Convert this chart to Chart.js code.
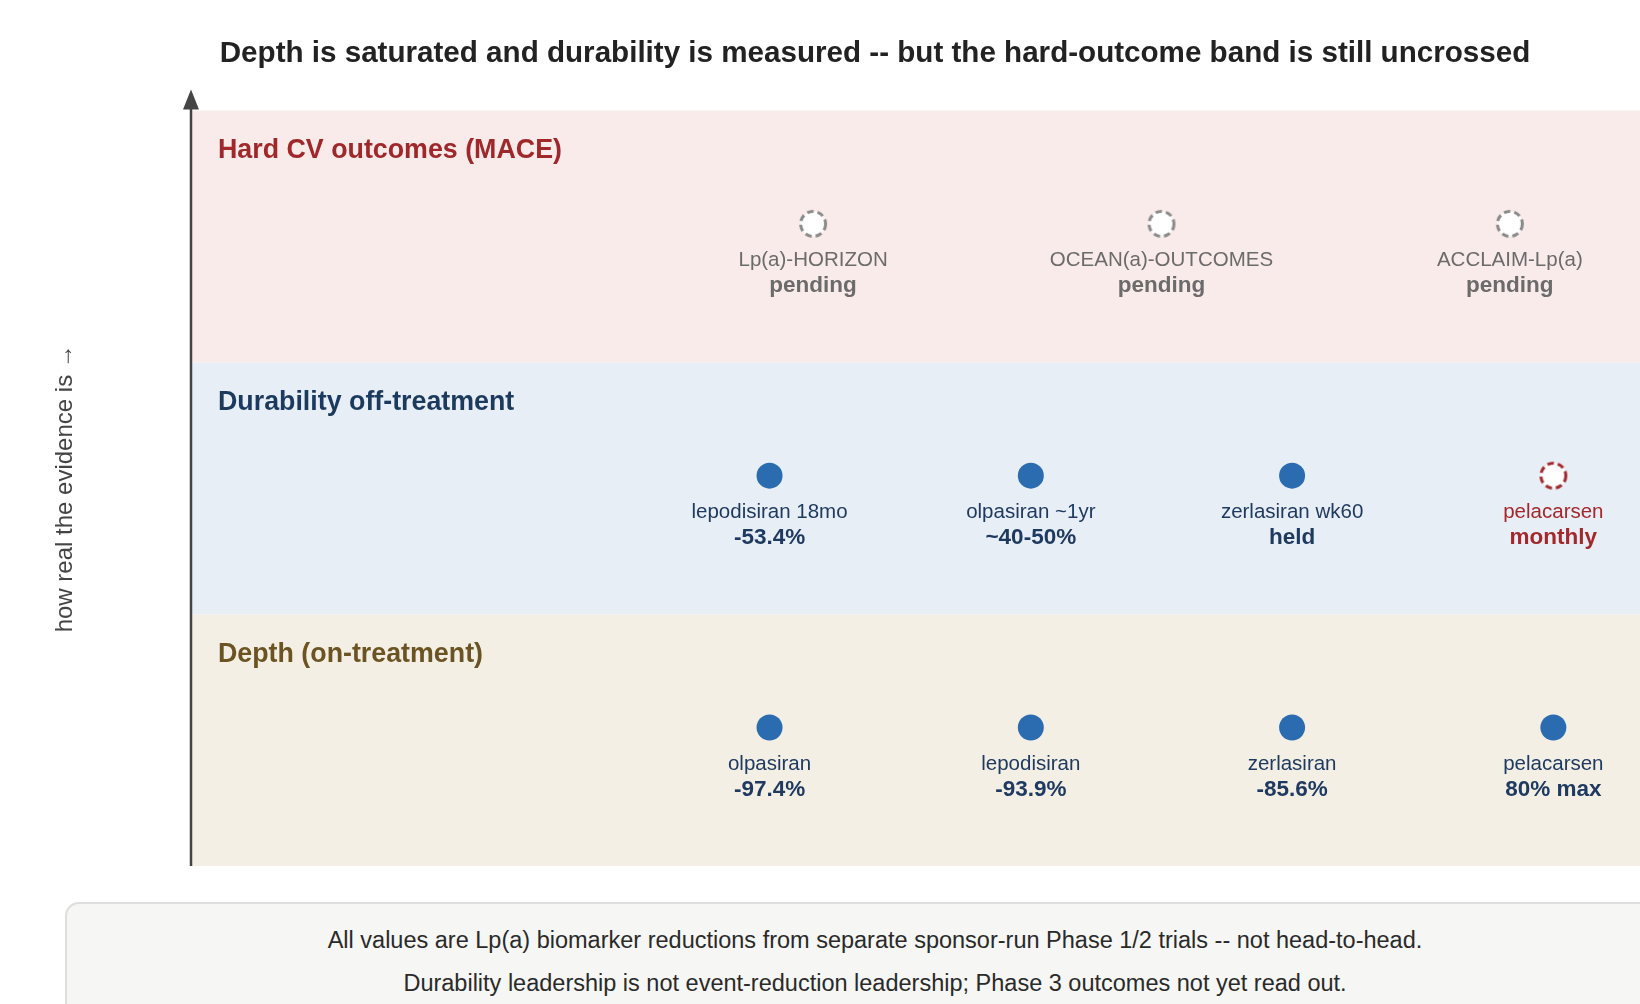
<!DOCTYPE html>
<html>
<head>
<meta charset="utf-8">
<script src="https://cdn.jsdelivr.net/npm/chart.js@4.4.1/dist/chart.umd.min.js"></script>
<style>
  body { margin: 0; background: #fff; overflow: hidden; font-family: Helvetica, Arial, "Liberation Sans", sans-serif; }
  #page { width: 1750px; }
  #wrap { position: relative; width: 1750px; height: 880px; }
  #note {
    margin: 22px 65px 0 65px;
    padding: 15px 0 30px 0;
    background: #f6f6f4;
    border: 2px solid #dedede;
    border-radius: 14px;
    text-align: center;
    color: #2a2a2a;
    font-size: 23.5px;
    line-height: 43px;
  }
</style>
</head>
<body>
<div id="page">
  <div id="wrap"><canvas id="myChart"></canvas></div>
  <div id="note">
    All values are Lp(a) biomarker reductions from separate sponsor-run Phase 1/2 trials -- not head-to-head.<br>
    Durability leadership is not event-reduction leadership; Phase 3 outcomes not yet read out.
  </div>
</div>
<script>
const bandNames = ["Depth (on-treatment)", "Durability off-treatment", "Hard CV outcomes (MACE)"];

const depthNames = ["olpasiran", "lepodisiran", "zerlasiran", "pelacarsen"];
const depthValues = ["-97.4%", "-93.9%", "-85.6%", "80% max"];

const durabilityNames = ["lepodisiran 18mo", "olpasiran ~1yr", "zerlasiran wk60", "pelacarsen"];
const durabilityValues = ["-53.4%", "~40-50%", "held", "monthly"];
const durabilityMeasured = [true, true, true, false];

const outcomeTrials = ["Lp(a)-HORIZON", "OCEAN(a)-OUTCOMES", "ACCLAIM-Lp(a)"];
const outcomeStatus = ["pending", "pending", "pending"];

const FONT = "Helvetica, Arial, 'Liberation Sans', sans-serif";
const bandFill = ["#f4efe5", "#e8eef6", "#f9ebea"];
const bandInk = ["#6b5322", "#1b3a5e", "#a0282a"];
const navy = "#1f3a60";
const blue = "#2b6cb0";
const red = "#a3282b";
const grey = "#6b6b6b";

// columns sit in the right 70% of the plot, evenly spread
function colX(i, n) {
  return 0.3 + 0.7 * (i + 0.5) / n;
}

function dashedMarker(color) {
  const c = document.createElement("canvas");
  c.width = 34;
  c.height = 34;
  const g = c.getContext("2d");
  g.beginPath();
  g.arc(17, 17, 12.5, 0, Math.PI * 2);
  g.fillStyle = "#fff";
  g.fill();
  g.setLineDash([6.5, 4]);
  g.lineWidth = 3;
  g.strokeStyle = color;
  g.stroke();
  return c;
}
const greyRing = dashedMarker("#8a8a8a");
const redRing = dashedMarker(red);

const depthData = depthNames.map((n, i) => ({ x: colX(i, depthNames.length), y: 0.55 }));
const durabilityData = durabilityNames.map((n, i) => ({ x: colX(i, durabilityNames.length), y: 1.55 }));
const outcomeData = outcomeTrials.map((n, i) => ({ x: colX(i, outcomeTrials.length), y: 2.55 }));

const bandPlugin = {
  id: "bands",
  beforeDatasetsDraw(chart) {
    const { ctx, chartArea, scales } = chart;
    ctx.save();
    bandNames.forEach((name, i) => {
      const top = scales.y.getPixelForValue(i + 1);
      const bottom = scales.y.getPixelForValue(i);
      ctx.fillStyle = bandFill[i];
      ctx.fillRect(chartArea.left, top, chartArea.right - chartArea.left, bottom - top);
      ctx.fillStyle = bandInk[i];
      ctx.font = "bold 26.8px " + FONT;
      ctx.textBaseline = "middle";
      ctx.textAlign = "left";
      ctx.fillText(name, chartArea.left + 27, top + 40);
    });
    // vertical axis with arrow
    const x = chartArea.left;
    ctx.strokeStyle = "#444";
    ctx.lineWidth = 2.5;
    ctx.beginPath();
    ctx.moveTo(x, chartArea.bottom);
    ctx.lineTo(x, chartArea.top - 6);
    ctx.stroke();
    ctx.fillStyle = "#444";
    ctx.beginPath();
    ctx.moveTo(x, chartArea.top - 21);
    ctx.lineTo(x - 8, chartArea.top - 1);
    ctx.lineTo(x + 8, chartArea.top - 1);
    ctx.closePath();
    ctx.fill();
    // axis title
    ctx.save();
    ctx.translate(65, (chartArea.top + chartArea.bottom) / 2);
    ctx.rotate(-Math.PI / 2);
    ctx.fillStyle = "#444";
    ctx.font = "24px " + FONT;
    ctx.textAlign = "center";
    ctx.textBaseline = "middle";
    ctx.fillText("how real the evidence is \u2192", 0, 0);
    ctx.restore();
    ctx.restore();
  }
};

const labelPlugin = {
  id: "pointLabels",
  afterDatasetsDraw(chart) {
    const { ctx } = chart;
    ctx.save();
    ctx.textAlign = "center";
    ctx.textBaseline = "middle";
    chart.data.datasets.forEach((ds, d) => {
      chart.getDatasetMeta(d).data.forEach((pt, i) => {
        ctx.fillStyle = ds.textColors[i];
        ctx.font = "20.5px " + FONT;
        ctx.fillText(ds.names[i], pt.x, pt.y + 37);
        ctx.font = "bold 22.5px " + FONT;
        ctx.fillText(ds.values[i], pt.x, pt.y + 62);
      });
    });
    ctx.restore();
  }
};

new Chart("myChart", {
  type: "scatter",
  data: {
    datasets: [
      {
        label: bandNames[0],
        data: depthData,
        names: depthNames,
        values: depthValues,
        textColors: depthNames.map(() => navy),
        pointStyle: "circle",
        pointRadius: 13,
        pointBackgroundColor: blue,
        pointBorderWidth: 0,
      },
      {
        label: bandNames[1],
        data: durabilityData,
        names: durabilityNames,
        values: durabilityValues,
        textColors: durabilityMeasured.map((m) => (m ? navy : red)),
        pointStyle: durabilityMeasured.map((m) => (m ? "circle" : redRing)),
        pointRadius: 13,
        pointBackgroundColor: blue,
        pointBorderWidth: 0,
      },
      {
        label: bandNames[2],
        data: outcomeData,
        names: outcomeTrials,
        values: outcomeStatus,
        textColors: outcomeTrials.map(() => grey),
        pointStyle: greyRing,
        pointRadius: 13,
      },
    ],
  },
  options: {
    responsive: true,
    maintainAspectRatio: false,
    animation: false,
    events: [],
    layout: { padding: { left: 0, right: 0, top: 0, bottom: 14 } },
    scales: {
      x: { display: false, min: 0, max: 1 },
      y: {
        min: 0,
        max: 3,
        ticks: { display: false },
        grid: { display: false },
        border: { display: false },
        afterFit(scale) { scale.width = 191; },
      },
      yRight: {
        position: "right",
        min: 0,
        max: 3,
        ticks: { display: false },
        grid: { display: false },
        border: { display: false },
        afterFit(scale) { scale.width = 66; },
      },
    },
    plugins: {
      legend: { display: false },
      tooltip: { enabled: false },
      title: {
        display: true,
        text: "Depth is saturated and durability is measured -- but the hard-outcome band is still uncrossed",
        color: "#222",
        font: { family: FONT, size: 29.6, weight: "bold" },
        padding: { top: 36, bottom: 39 },
      },
    },
  },
  plugins: [bandPlugin, labelPlugin],
});
</script>
</body>
</html>
